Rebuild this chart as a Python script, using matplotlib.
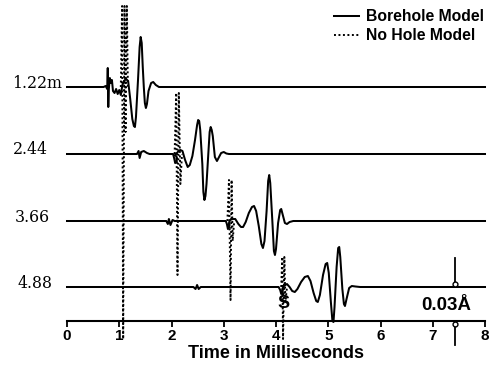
import matplotlib
matplotlib.use("Agg")
import matplotlib.pyplot as plt

# ---------------- data (time in ms, amplitude in relative units) ----------------
depth_labels = ["1.22m", "2.44", "3.66", "4.88"]
trace_offsets = [234, 167, 100, 34]

# Borehole model traces
bh1_t = [0.00, 0.70, 0.74, 0.77, 0.78, 0.79, 0.80, 0.82, 0.84, 0.86, 0.88, 0.91, 0.94, 0.97, 1.00,
         1.03, 1.06, 1.09, 1.13, 1.17, 1.21, 1.25, 1.28, 1.30, 1.32, 1.36, 1.39, 1.41, 1.43, 1.45,
         1.47, 1.49, 1.51, 1.53, 1.56, 1.61, 1.65, 1.70, 1.76, 8.00]
bh1_a = [0, 0, 1, -2, 19, -20, -2, 9, 4, 7, -4, -6, -2, -7, -3,
         -8, 2, 6, 8, 6, -12, -32, -39, -40, -30, 8, 40, 50, 44, 20,
         0, -16, -21, -17, -4, 4, 5, 2, 0, 0]

bh2_t = [0.00, 1.34, 1.37, 1.39, 1.42, 1.47, 1.53, 1.58, 2.03, 2.05, 2.07, 2.10, 2.10, 2.07, 2.12,
         2.17, 2.21, 2.26, 2.31, 2.35, 2.40, 2.45, 2.49, 2.51, 2.53, 2.55, 2.59, 2.61, 2.63, 2.65,
         2.67, 2.71, 2.73, 2.75, 2.77, 2.79, 2.83, 2.87, 2.91, 2.95, 3.00, 3.05, 3.10, 8.00]
bh2_a = [0, 0, 3, -4, 2, 3, 1, 0, 0, -4, -9, -8, -3, -1, 2,
         4, 3, -6, -13, -11, -2, 14, 29, 34, 33, 24, -10, -38, -46, -42,
         -30, 5, 22, 27, 24, 18, -3, -7, -3, 1, 2, 0.5, 0, 0]

bh3_t = [0.00, 1.90, 1.93, 1.95, 1.98, 2.02, 2.06, 3.04, 3.06, 3.08, 3.10, 3.10, 3.12, 3.17, 3.22,
         3.28, 3.33, 3.37, 3.42, 3.48, 3.54, 3.58, 3.62, 3.67, 3.72, 3.75, 3.78, 3.82, 3.85, 3.87,
         3.89, 3.93, 3.96, 3.98, 4.00, 4.04, 4.08, 4.10, 4.13, 4.17, 4.21, 4.26, 4.33, 8.00]
bh3_a = [0, 0, -3, 2, -4, 1, 0, 0, -3, -8, -7, -2, 1, 2, 2,
         -3, -6, -6, -1, 8, 14, 15, 10, -5, -23, -27, -20, 10, 40, 46,
         38, 0, -30, -34, -28, -2, 11, 12, 6, -2, -3, -1, 0, 0]

bh4_t = [0.00, 2.42, 2.46, 2.49, 2.52, 2.56, 4.05, 4.08, 4.10, 4.13, 4.12, 4.15, 4.21, 4.26, 4.31,
         4.36, 4.41, 4.48, 4.55, 4.61, 4.66, 4.72, 4.77, 4.80, 4.84, 4.90, 4.95, 4.98, 5.01, 5.05,
         5.08, 5.10, 5.12, 5.16, 5.19, 5.21, 5.23, 5.27, 5.30, 5.32, 5.35, 5.40, 5.45, 5.52, 5.61, 8.00]
bh4_a = [0, 0, -2, 2, -2, 0, 0, -3, -7, -6, -2, 1, 3, 0, -4,
         -5, -2, 5, 10, 11, 6, -6, -14, -15, -8, 12, 23, 24, 14, -15,
         -34, -35, -20, 20, 39, 40, 30, -2, -17, -19, -12, -1, 1, 0.5, 0, 0]

# No hole model pulses (dotted)
nh1_t = [1.03, 1.055, 1.075, 1.10, 1.12, 1.145, 1.165]
nh1_a = [0, 81, -252, 81, -45, 81, 0]
nh2_t = [2.06, 2.09, 2.115, 2.14, 2.17, 2.20]
nh2_a = [0, 61, -121, 61, -30, 0]
nh3_t = [3.07, 3.10, 3.13, 3.15, 3.17, 3.20]
nh3_a = [0, 41, -79, 41, -20, 0]
nh4_t = [4.10, 4.12, 4.135, 4.16, 4.18, 4.21]
nh4_a = [0, 30, -52, 30, -15, 0]

x_ticks = [0, 1, 2, 3, 4, 5, 6, 7, 8]
x_label = "Time in Milliseconds"
scale_label = "0.03Å"
scale_time = 7.43
s_time = 4.15

bh_t = [bh1_t, bh2_t, bh3_t, bh4_t]
bh_a = [bh1_a, bh2_a, bh3_a, bh4_a]
nh_t = [nh1_t, nh2_t, nh3_t, nh4_t]
nh_a = [nh1_a, nh2_a, nh3_a, nh4_a]

# ---------------- figure ----------------
W, H = 492, 368
fig = plt.figure(figsize=(W / 100, H / 100), dpi=100)
ax = fig.add_axes([67 / W, 47 / H, 418 / W, 321 / H])
ax.set_xlim(0, 8)
ax.set_ylim(0, 321)

sans = "Liberation Sans"
lw = 1.45
for i in range(4):
    off = trace_offsets[i]
    ln_bh, = ax.plot(bh_t[i], [a + off for a in bh_a[i]], color="black", lw=lw,
                     solid_joinstyle="round", clip_on=False)
    ln_nh, = ax.plot(nh_t[i], [a + off for a in nh_a[i]], color="black", lw=1.4,
                     linestyle=(0, (1, 1.3)), clip_on=False)
    if i == 0:
        h_bh, h_nh = ln_bh, ln_nh

# depth labels
label_left = [12, 13, 15, 17]
for i, lab in enumerate(depth_labels):
    ypx = 321 - trace_offsets[i] - 4
    fig.text(label_left[i] / W, 1 - ypx / H, lab, ha="left", va="center",
             family="DejaVu Serif", fontsize=11.3)

# axis styling
for s in ["top", "right", "left"]:
    ax.spines[s].set_visible(False)
ax.spines["bottom"].set_linewidth(1.5)
ax.set_yticks([])
ax.set_xticks(x_ticks)
ax.set_xticklabels([str(t) for t in x_ticks], family=sans, weight="bold", fontsize=11)
ax.tick_params(axis="x", direction="out", length=4, width=1.3, pad=2)
ax.set_xlabel(x_label, family=sans, weight="bold", fontsize=13, labelpad=1)
ax.patch.set_alpha(0)

# scale bar
ax.plot([scale_time, scale_time], [63, 37], color="black", lw=1.3, clip_on=False)
ax.plot([scale_time], [37], marker="o", ms=3.5, mfc="white", mec="black", mew=1, clip_on=False)
ax.plot([scale_time, scale_time], [-24, -3], color="black", lw=1.3, clip_on=False)
ax.plot([scale_time], [-3], marker="o", ms=3.5, mfc="white", mec="black", mew=1, clip_on=False)
ax.text(7.73, 15, scale_label, ha="right", va="center", family=sans, weight="bold", fontsize=13.5)

# S label
ax.text(s_time, 18, "S", ha="center", va="center", family=sans, weight="bold", fontsize=13)

# legend
leg = ax.legend([h_bh, h_nh], ["Borehole Model", "No Hole Model"], loc="upper right",
                bbox_to_anchor=(1.02, 1.0), frameon=False, handlelength=1.6, handletextpad=0.45,
                labelspacing=0.25, borderaxespad=0.2,
                prop={"family": sans, "weight": "bold", "size": 11.3})

fig.savefig("out.png", dpi=100)
